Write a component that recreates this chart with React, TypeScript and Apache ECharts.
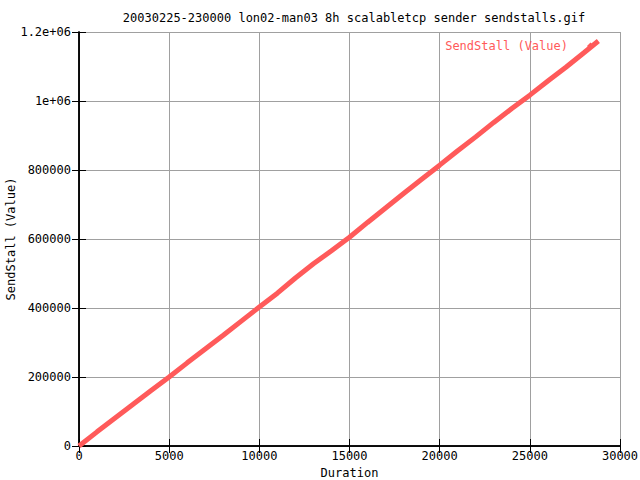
import React, { useEffect, useRef } from "react";
import * as echarts from "echarts";

const titleText = "20030225-230000 lon02-man03 8h scalabletcp sender sendstalls.gif";
const seriesName = "SendStall (Value)";
const yAxisTitle = "SendStall (Value)";
const durations = [0, 1000, 2000, 3000, 4000, 5000, 6000, 7000, 8000, 9000, 10000, 11000, 12000, 13000, 14000, 15000, 16000, 17000, 18000, 19000, 20000, 21000, 22000, 23000, 24000, 25000, 26000, 27000, 28000, 28800];
const sendStalls = [0, 41000, 81000, 121000, 161000, 200000, 241000, 281000, 321000, 362000, 403000, 443000, 487000, 528000, 566000, 605000, 648000, 690000, 732000, 773000, 814000, 856000, 896000, 938000, 978000, 1017000, 1058000, 1098000, 1140000, 1174000];
const yTickLabels: Record<number, string> = { 1000000: "1e+06", 1200000: "1.2e+06" };

const FONT = "DejaVu Sans Mono";
const RED = "#ff5a5a";

export default function App() {
  const ref = useRef<HTMLDivElement>(null);
  useEffect(() => {
    if (!ref.current) return;
    const chart = echarts.init(ref.current, undefined, { renderer: "svg" });
    const tickStyle = { show: true, inside: true, length: 7, lineStyle: { color: "#000", width: 1 } };
    const lineStyle = { show: true, lineStyle: { color: "#000", width: 1.5 } };
    chart.setOption({
      animation: false,
      backgroundColor: "#fff",
      textStyle: { fontFamily: FONT },
      title: {
        text: titleText,
        left: 349,
        top: 7,
        textAlign: "center",
        textStyle: { fontFamily: FONT, fontSize: 12, fontWeight: "normal", color: "#000" },
      },
      legend: {
        data: [{ name: seriesName, icon: "diamond" }],
        right: 41,
        top: 35,
        align: "right",
        itemWidth: 7,
        itemHeight: 7,
        itemGap: 20,
        textStyle: { fontFamily: FONT, fontSize: 12, color: RED, padding: [0, 14, 0, 0] },
      },
      graphic: [
        {
          type: "text",
          x: 11,
          y: 239,
          rotation: Math.PI / 2,
          style: {
            text: yAxisTitle,
            font: `12px "${FONT}"`,
            fill: "#000",
            align: "center",
            verticalAlign: "middle",
          },
        },
      ],
      grid: { left: 79, right: 20, top: 32, bottom: 34, containLabel: false, outerBoundsMode: "none" },
      xAxis: [
        {
          type: "value",
          min: 0,
          max: 30000,
          interval: 5000,
          name: "Duration",
          nameLocation: "middle",
          nameGap: 20,
          nameTextStyle: { fontFamily: FONT, fontSize: 12, color: "#000" },
          axisLine: lineStyle,
          axisTick: tickStyle,
          axisLabel: { fontFamily: FONT, fontSize: 12, color: "#000", margin: 4, formatter: (v: number) => String(v) },
          splitLine: { show: true, lineStyle: { color: "#a0a0a0", width: 1 } },
        },
        {
          type: "value",
          position: "top",
          min: 0,
          max: 30000,
          interval: 5000,
          axisLine: lineStyle,
          axisTick: tickStyle,
          axisLabel: { show: false },
          splitLine: { show: false },
        },
      ],
      yAxis: [
        {
          type: "value",
          min: 0,
          max: 1200000,
          interval: 200000,
          axisLine: lineStyle,
          axisTick: tickStyle,
          axisLabel: {
            fontFamily: FONT,
            fontSize: 12,
            color: "#000",
            margin: 8,
            formatter: (v: number) => yTickLabels[v] ?? String(v),
          },
          splitLine: { show: true, lineStyle: { color: "#a0a0a0", width: 1 } },
        },
        {
          type: "value",
          position: "right",
          min: 0,
          max: 1200000,
          interval: 200000,
          axisLine: lineStyle,
          axisTick: tickStyle,
          axisLabel: { show: false },
          splitLine: { show: false },
        },
      ],
      series: [
        {
          name: seriesName,
          type: "line",
          xAxisIndex: 0,
          yAxisIndex: 0,
          symbol: "none",
          data: durations.map((d, i) => [d, sendStalls[i]]),
          lineStyle: { color: RED, width: 5 },
          itemStyle: { color: RED },
        },
      ],
    });
    return () => chart.dispose();
  }, []);
  return <div ref={ref} style={{ position: "fixed", left: 0, top: 0, width: 640, height: 480 }} />;
}
